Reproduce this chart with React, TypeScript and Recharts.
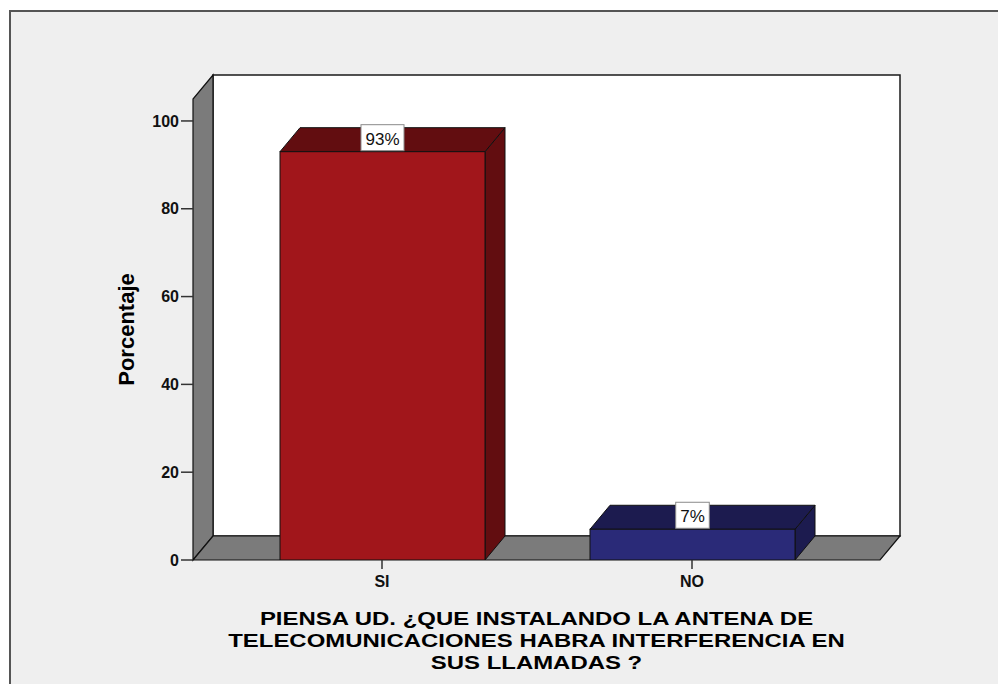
import React from 'react';
import { BarChart, Bar, XAxis, YAxis, LabelList, Label } from 'recharts';

const categories = ['SI', 'NO'];
const percentages = [93, 7];
const frontColors = ['#a1161b', '#2a2a78'];
const depthColors = ['#620d10', '#1c1b4f'];
const yTicks = [0, 20, 40, 60, 80, 100];
const yTitle = 'Porcentaje';
const xTitleLines = [
  'PIENSA UD. ¿QUE INSTALANDO LA ANTENA DE',
  'TELECOMUNICACIONES HABRA INTERFERENCIA EN',
  'SUS LLAMADAS ?',
];

const data = categories.map((c, i) => ({
  name: c,
  value: percentages[i],
  front: frontColors[i],
  depth: depthColors[i],
}));

const FONT = '"Liberation Sans", Arial, Helvetica, sans-serif';
const W = 998;
const H = 684;
const M = { top: 99, right: 118, bottom: 84, left: 113 };
const YW = 80;
const XH = 40;
const DX = 20;
const DY = -24;
const PL = M.left + YW;
const PR = W - M.right;
const PT = M.top;
const PB = H - M.bottom - XH;

const Bar3D = (props: any) => {
  const { x, y, width, height, payload } = props;
  if (width == null || height == null) return null;
  const stroke = '#111';
  const top = `${x},${y} ${x + DX},${y + DY} ${x + width + DX},${y + DY} ${x + width},${y}`;
  const side = `${x + width},${y} ${x + width + DX},${y + DY} ${x + width + DX},${y + height + DY} ${x + width},${y + height}`;
  return (
    <g>
      <polygon points={side} fill={payload.depth} stroke={stroke} strokeWidth={1} />
      <polygon points={top} fill={payload.depth} stroke={stroke} strokeWidth={1} />
      <rect x={x} y={y} width={width} height={height} fill={payload.front} stroke={stroke} strokeWidth={1} />
    </g>
  );
};

const renderValueLabel = (props: any) => {
  const vb = props.viewBox || props;
  const x = vb.x;
  const y = vb.y;
  const width = vb.width;
  const value = props.value;
  const text = `${value}%`;
  const digits = String(value).length;
  const fs = 17;
  const tw = (digits * 0.556 + 0.889) * fs;
  const bw = tw + 9;
  const cx = x + width / 2;
  return (
    <g>
      <rect x={cx - bw / 2} y={y + DY - 3} width={bw} height={-DY + 2} fill="#fff" stroke="#8a8a8a" strokeWidth={1} />
      <text x={cx} y={y - 7} textAnchor="middle" fontFamily={FONT} fontSize={fs} fill="#111">
        {text}
      </text>
    </g>
  );
};

const renderXTitle = (props: any) => {
  const vb = props.viewBox || {};
  const cx = vb.x + vb.width / 2;
  const y0 = vb.y;
  return (
    <g transform={`translate(${cx},0) scale(1.26,1) translate(${-cx},0)`}>
      {xTitleLines.map((line, i) => (
        <text
          key={i}
          x={cx}
          y={y0 + 65 + i * 22}
          textAnchor="middle"
          fontFamily={FONT}
          fontWeight="bold"
          fontSize={19}
          fill="#000"
        >
          {line}
        </text>
      ))}
    </g>
  );
};

const renderYTitle = (props: any) => {
  const vb = props.viewBox || {};
  const cy = vb.y + vb.height / 2;
  const x = vb.x + 21;
  return (
    <text
      x={x}
      y={cy}
      transform={`rotate(-90, ${x}, ${cy})`}
      textAnchor="middle"
      fontFamily={FONT}
      fontWeight="bold"
      fontSize={22}
      fill="#000"
    >
      {yTitle}
    </text>
  );
};

const Background = () => {
  const floor = `${PL},${PB} ${PL + DX},${PB + DY} ${PR + DX},${PB + DY} ${PR},${PB}`;
  const wall = `${PL},${PB} ${PL},${PT} ${PL + DX},${PT + DY} ${PL + DX},${PB + DY}`;
  return (
    <svg width={W} height={H} style={{ position: 'absolute', left: 0, top: 0 }}>
      <rect x={0} y={0} width={W} height={H} fill="#ffffff" />
      <rect x={10} y={11} width={1000} height={700} fill="#efefef" stroke="#555" strokeWidth={2} />
      <rect x={PL + DX} y={PT + DY} width={PR - PL} height={PB - PT} fill="#ffffff" stroke="#1a1a1a" strokeWidth={1.5} />
      <polygon points={wall} fill="#7b7b7b" stroke="#111" strokeWidth={1.2} />
      <polygon points={floor} fill="#7b7b7b" stroke="#111" strokeWidth={1.2} />
    </svg>
  );
};

export default function App() {
  return (
    <div style={{ position: 'absolute', left: 0, top: 0, width: W, height: H }}>
      <Background />
      <div style={{ position: 'absolute', left: 0, top: 0 }}>
        <BarChart width={W} height={H} data={data} margin={M} barSize={205}>
          <XAxis
            dataKey="name"
            height={XH}
            axisLine={false}
            tickLine={{ stroke: '#333', strokeWidth: 1.5 }}
            tickSize={9}
            tickMargin={7}
            padding={{ left: 34, right: 33 }}
            tick={{ fontSize: 16, fontWeight: 'bold', fill: '#111', fontFamily: FONT }}
            interval={0}
          >
            <Label content={renderXTitle} />
          </XAxis>
          <YAxis
            width={YW}
            domain={[0, 105]}
            ticks={yTicks}
            axisLine={false}
            tickLine={{ stroke: '#333', strokeWidth: 1.5 }}
            tickSize={12}
            tickMargin={2}
            tick={{ fontSize: 16, fontWeight: 'bold', fill: '#111', fontFamily: FONT }}
            allowDataOverflow
          >
            <Label content={renderYTitle} />
          </YAxis>
          <Bar dataKey="value" shape={Bar3D} isAnimationActive={false}>
            <LabelList dataKey="value" content={renderValueLabel} />
          </Bar>
        </BarChart>
      </div>
    </div>
  );
}
